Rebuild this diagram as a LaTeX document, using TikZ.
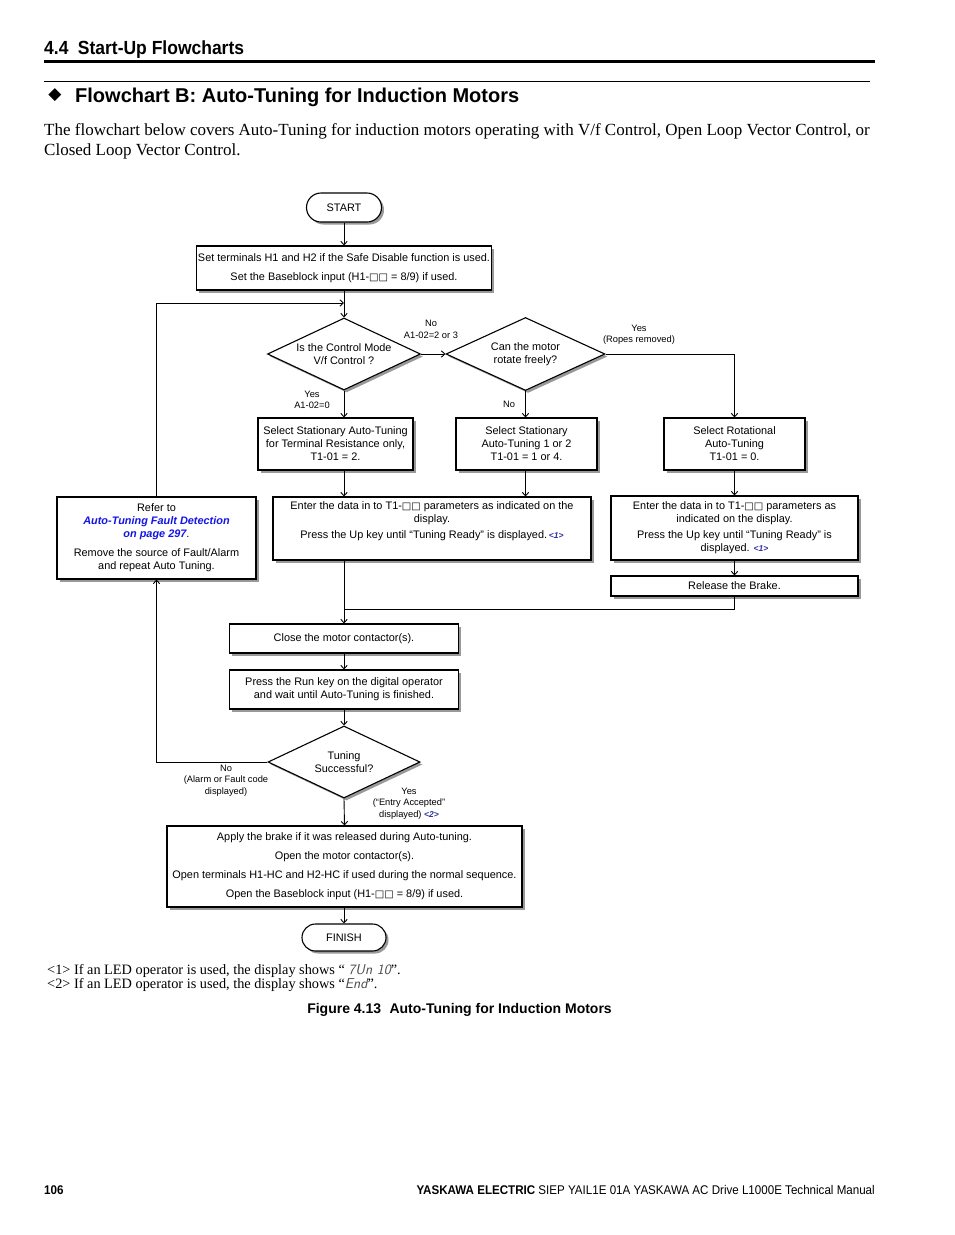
\documentclass[tikz,border=0pt]{standalone}
\usepackage{fontspec}
\setmainfont{Liberation Sans}
\newfontfamily\serif{Liberation Serif}
\newfontfamily\dejavu{DejaVu Sans}
\newfontfamily\narrowf[FakeStretch=0.92]{Liberation Sans}
\usetikzlibrary{shapes.geometric,shapes.misc,shadows,arrows.meta}
\definecolor{linkblue}{RGB}{20,20,230}
\definecolor{tagblue}{RGB}{50,50,160}
\newcommand\fsz[2]{\fontsize{#1}{#2}\selectfont}
\newcommand\sqq{{\dejavu\fontsize{10}{13}\selectfont □□}}
\newcommand\tagone{{\fsz{8.5}{10}\bfseries\itshape\color{tagblue}<1>}}
\newcommand\tagtwo{{\fsz{8.5}{10}\bfseries\itshape\color{tagblue}<2>}}
\begin{document}
\begin{tikzpicture}[x=1pt,y=-1pt,
  shad/.style={drop shadow={shadow xshift=2.5pt,shadow yshift=-2.5pt,fill=black!40,opacity=1}},
  box/.style={draw,line width=1.1pt,fill=white,inner sep=0pt,align=center,font=\fsz{10.9}{13},shad},
  dia/.style={diamond,draw,line width=1.1pt,fill=white,inner sep=0pt,aspect=2.1,align=center,font=\fsz{10.9}{13},shad},
  term/.style={rounded rectangle,draw,line width=1.1pt,fill=white,inner sep=0pt,font=\fsz{10.9}{13},shad},
  conn/.style={line width=0.9pt,-{Straight Barb[length=3.5pt,width=6.5pt]}},
  plain/.style={line width=0.9pt},
  lbl/.style={font=\fsz{9.3}{11.5},align=center,inner sep=0pt},
  txt/.style={inner sep=0pt}]
\useasboundingbox (0,0) rectangle (954,1235);
\fill[white] (0,0) rectangle (954,1235);
% page header
\node[txt,anchor=base west,font=\narrowf\bfseries\fsz{19}{22}] (hdr) at (44,54) {4.4\hspace{0.5em}Start-Up Flowcharts};
\draw[line width=3pt] (44,61) -- (875,61);
\draw[line width=1pt] (44,81) -- (870,81);
\node[txt,font=\dejavu\fsz{17}{20}] (dmd) at (55,95) {◆};
\node[txt,anchor=base west,font=\bfseries\fsz{20}{24}] (ttl) at (75,102) {Flowchart B: Auto-Tuning for Induction Motors};
\node[txt,anchor=base west,align=left,font=\serif\fsz{17}{20}] (intro) at (44,155) {The flowchart below covers Auto-Tuning for induction motors operating with V/f Control, Open Loop Vector Control, or\\Closed Loop Vector Control.};
% flowchart nodes
\node[term,minimum width=75pt,minimum height=29pt] (start) at (344,207.5) {START};
\node[box,minimum width=295pt,minimum height=44pt] (b1) at (344,268) {Set terminals H1 and H2 if the Safe Disable function is used.\\[6pt]Set the Baseblock input (H1-\sqq{} = 8/9) if used.};
\node[dia,minimum width=153pt,minimum height=72pt] (d1) at (344,354) {Is the Control Mode\\V/f Control ?};
\node[dia,minimum width=159pt,minimum height=73pt] (d2) at (525.5,354) {Can the motor\\rotate freely?};
\node[box,minimum width=155pt,minimum height=52pt] (bA) at (335.5,444) {Select Stationary Auto-Tuning\\for Terminal Resistance only,\\T1-01 = 2.};
\node[box,minimum width=141pt,minimum height=52pt] (bB) at (526.5,444) {Select Stationary\\Auto-Tuning 1 or 2\\T1-01 = 1 or 4.};
\node[box,minimum width=141pt,minimum height=52pt] (bC) at (734.5,444) {Select Rotational\\Auto-Tuning\\T1-01 = 0.};
\node[box,minimum width=199pt,minimum height=82pt] (refer) at (156.5,538) {Refer to\\{\color{linkblue}\bfseries\itshape Auto-Tuning Fault Detection}\\{\color{linkblue}\bfseries\itshape on page 297}.\\[6pt]Remove the source of Fault/Alarm\\and repeat Auto Tuning.};
\node[box,minimum width=318pt,minimum height=63pt,text depth=16pt] (bD) at (432,528.5) {Enter the data in to T1-\sqq{} parameters as indicated on the\\display.\\[3pt]Press the Up key until “Tuning Ready” is displayed.\,\tagone};
\node[box,minimum width=247pt,minimum height=64pt] (bE) at (734.5,528) {Enter the data in to T1-\sqq{} parameters as\\indicated on the display.\\[3pt]Press the Up key until “Tuning Ready” is\\displayed. \tagone};
\node[box,minimum width=247pt,minimum height=20pt] (brake) at (734.5,586) {Release the Brake.};
\node[box,minimum width=229pt,minimum height=29pt] (close) at (344,638.5) {Close the motor contactor(s).};
\node[box,minimum width=229pt,minimum height=39pt] (run) at (344,689.5) {Press the Run key on the digital operator\\and wait until Auto-Tuning is finished.};
\node[dia,minimum width=152pt,minimum height=72pt] (d3) at (344,762) {Tuning\\Successful?};
\node[box,minimum width=355pt,minimum height=81pt] (fin) at (344.5,866.5) {Apply the brake if it was released during Auto-tuning.\\[6pt]Open the motor contactor(s).\\[6pt]Open terminals H1-HC and H2-HC if used during the normal sequence.\\[6pt]Open the Baseblock input (H1-\sqq{} = 8/9) if used.};
\node[term,minimum width=84pt,minimum height=27pt] (finish) at (344,937.5) {FINISH};
% labels
\node[lbl] (l1) at (431,329.5) {No\\A1-02=2 or 3};
\node[lbl] (l2) at (639,335) {Yes\\(Ropes removed)};
\node[lbl] (l3) at (312,400) {Yes\\A1-02=0};
\node[lbl] (l4) at (509,404) {No};
\node[lbl] (l5) at (226,780.5) {No\\(Alarm or Fault code\\displayed)};
\node[lbl] (l6) at (409,803.5) {Yes\\(“Entry Accepted”\\displayed) \tagtwo};
% connectors
\coordinate (j1) at (344,303);
\coordinate (j2) at (344,609);
\draw[conn] (start.south) -- (b1.north);
\draw[conn] (b1.south) -- (d1.north);
\draw[conn] (d1.east) -- (d2.west);
\draw[conn] (d2.east) -| (bC.north);
\draw[conn] (d1.south) -- (d1.south |- bA.north);
\draw[conn] (d2.south) -- (d2.south |- bB.north);
\draw[conn] (d1.south |- bA.south) -- (d1.south |- bD.north);
\draw[conn] (d2.south |- bB.south) -- (d2.south |- bD.north);
\draw[conn] (bC.south) -- (bE.north);
\draw[conn] (bE.south) -- (brake.north);
\draw[plain] (brake.south) |- (j2);
\draw[conn] (d1.south |- bD.south) -- (close.north);
\draw[conn] (close.south) -- (run.north);
\draw[conn] (run.south) -- (d3.north);
\draw[conn] (d3.south) -- (fin.north);
\draw[conn] (d3.south |- fin.south) -- (finish.north);
\draw[conn] (d3.west) -| (refer.south);
\draw[conn] (refer.north) |- (j1);
% footnotes and caption
\node[txt,anchor=base west,align=left,font=\serif\fsz{14.3}{14}] (fn) at (47,988) {<1> If an LED operator is used, the display shows “ {\sffamily\itshape\color{black!70}7Un 10}”.\\<2> If an LED operator is used, the display shows “{\sffamily\itshape\color{black!70}End}”.};
\node[txt,anchor=base,font=\bfseries\fsz{14}{16}] (cap) at (459.5,1013) {Figure 4.13\hspace{0.6em}Auto-Tuning for Induction Motors};
% footer
\node[txt,anchor=base west,font=\narrowf\bfseries\fsz{12.6}{14}] (pg) at (44,1194) {106};
\node[txt,anchor=base east,font=\narrowf\fsz{12.6}{14}] (ft) at (875,1194) {{\bfseries YASKAWA ELECTRIC} SIEP YAIL1E 01A YASKAWA AC Drive L1000E Technical Manual};
\end{tikzpicture}
\end{document}
